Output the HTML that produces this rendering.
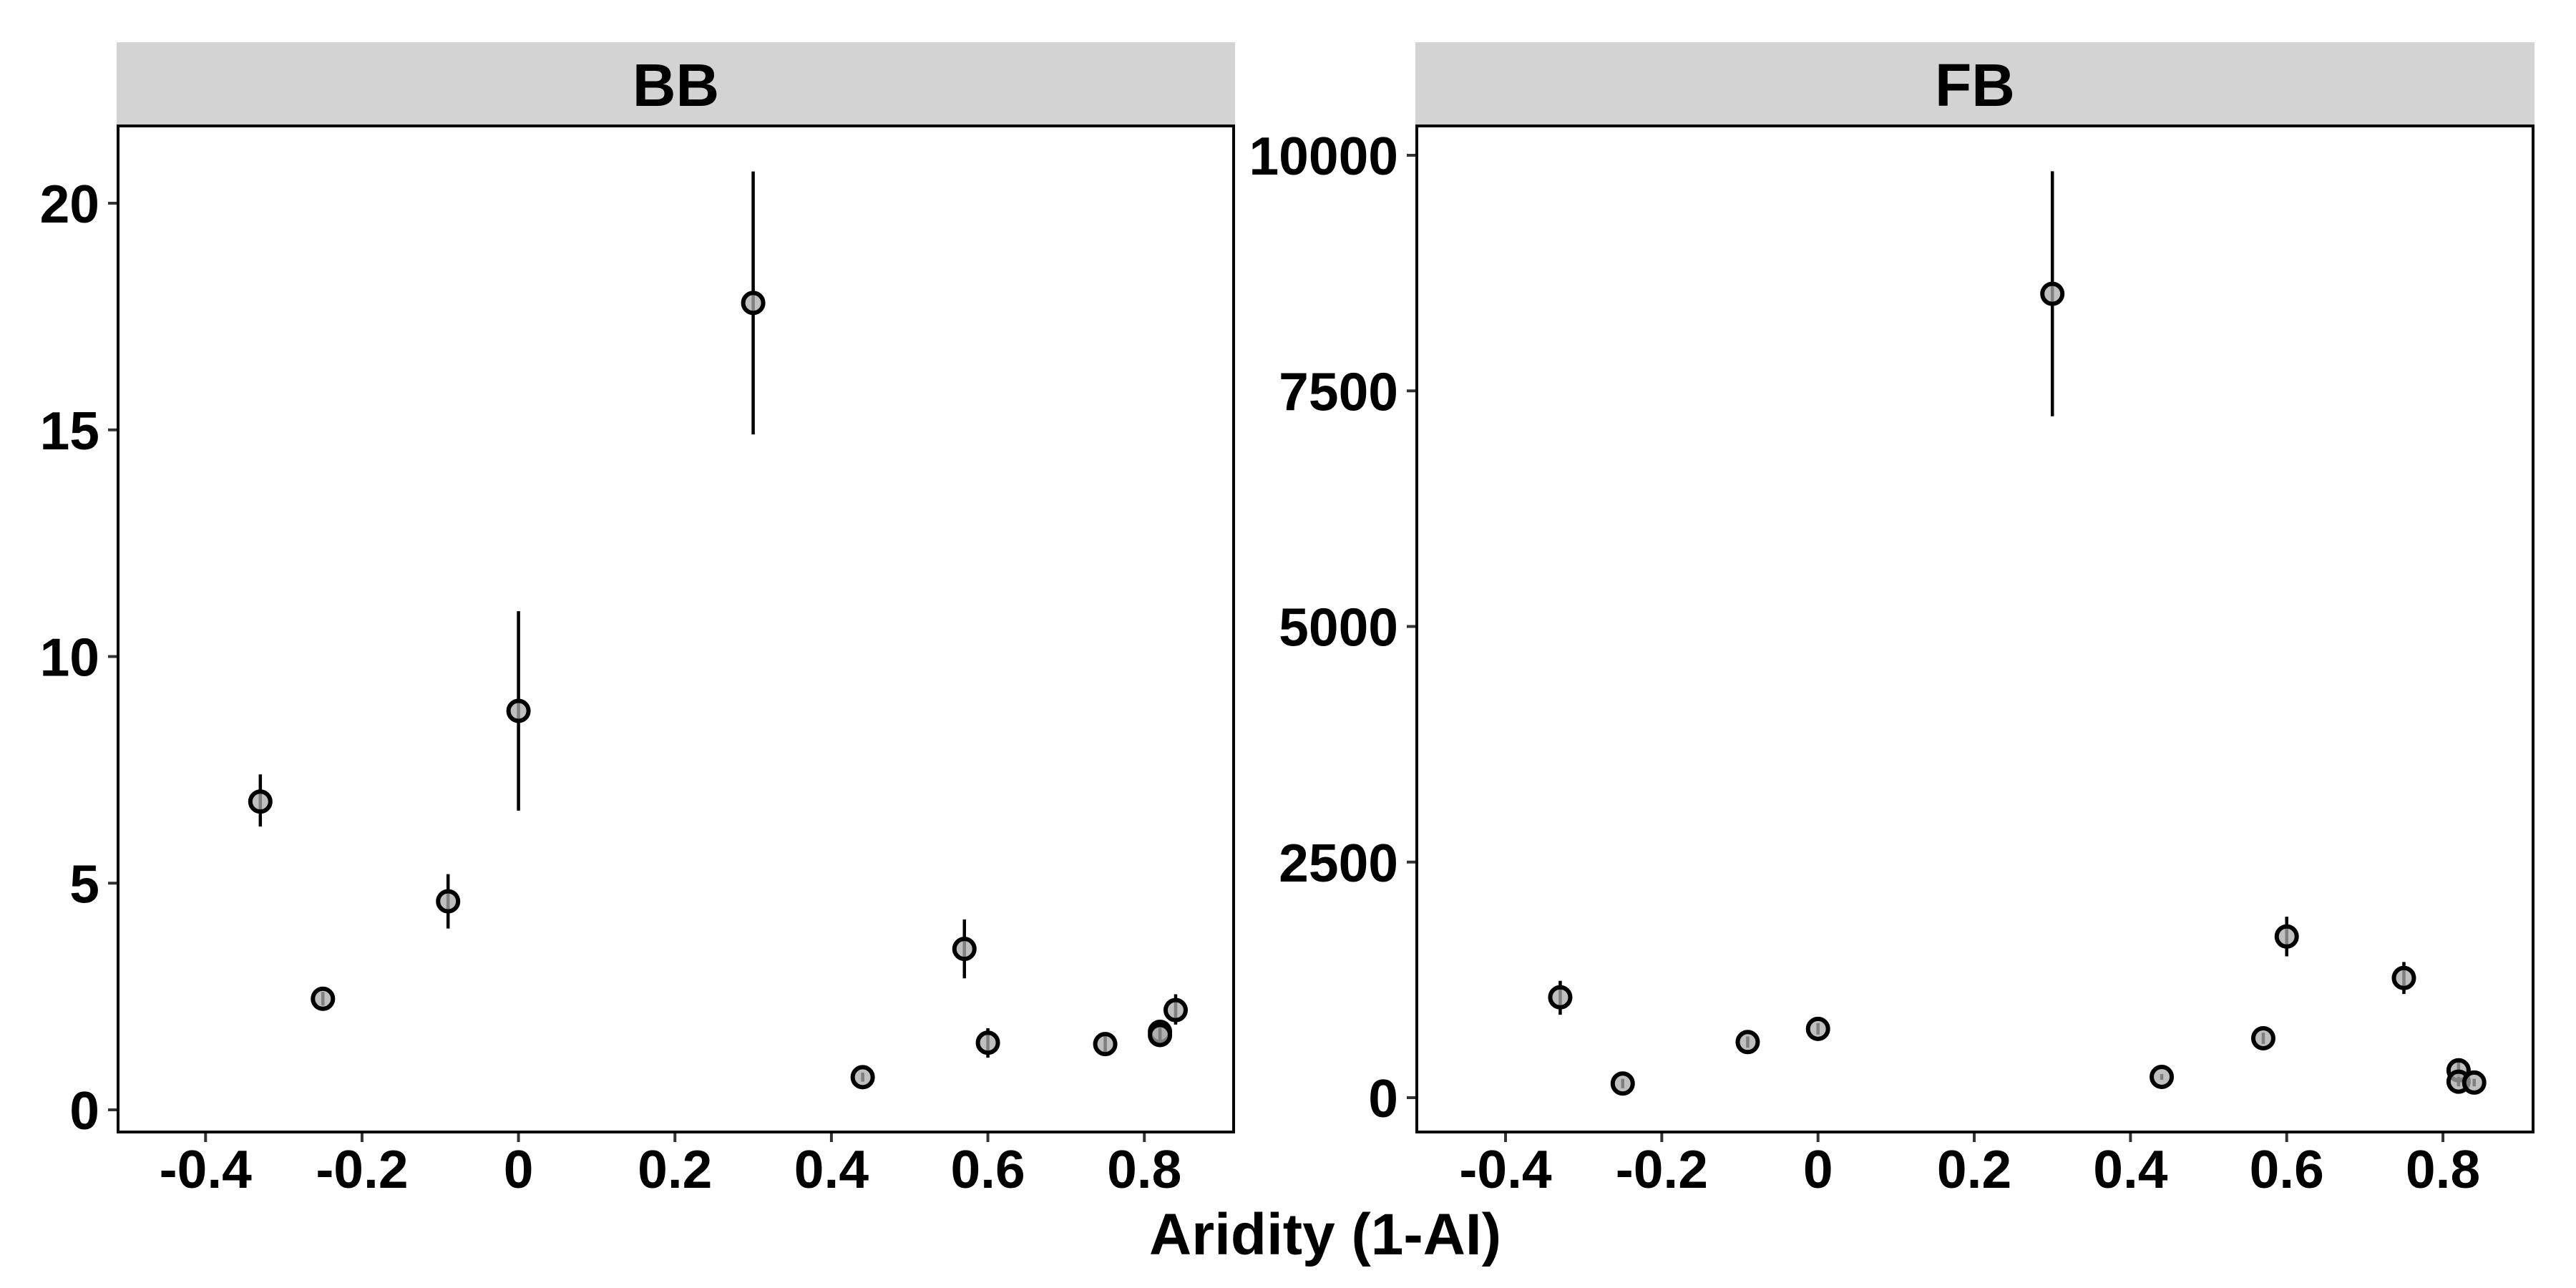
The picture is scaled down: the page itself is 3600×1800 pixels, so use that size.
<!DOCTYPE html>
<html><head><meta charset="utf-8"><style>
html,body{margin:0;padding:0;background:#fff;}
svg{display:block;font-family:"Liberation Sans",Arial,sans-serif;font-weight:bold;}
</style></head><body>
<svg id="chart" width="3600" height="1800" viewBox="0 0 3600 1800" xmlns="http://www.w3.org/2000/svg">
<rect width="3600" height="1800" fill="#fff"/>
<g id="root"></g>
<text x="1852" y="1753" font-size="82" text-anchor="middle">Aridity (1-AI)</text>
</svg>
<script>
const xTicks = [-0.4, -0.2, 0, 0.2, 0.4, 0.6, 0.8];
const xTickLabels = ["-0.4", "-0.2", "0", "0.2", "0.4", "0.6", "0.8"];
const bbTicks = [0, 5, 10, 15, 20];
const bbTickLabels = ["0", "5", "10", "15", "20"];
const fbTicks = [0, 2500, 5000, 7500, 10000];
const fbTickLabels = ["0", "2500", "5000", "7500", "10000"];
const aridity = [-0.33, -0.25, -0.09, 0, 0.3, 0.44, 0.57, 0.6, 0.75, 0.82, 0.82, 0.84];
const bbMean = [6.8, 2.45, 4.6, 8.8, 17.8, 0.72, 3.55, 1.48, 1.45, 1.72, 1.65, 2.2];
const bbLow = [6.25, 2.3, 4.0, 6.6, 14.9, 0.62, 2.9, 1.15, 1.2, 1.5, 1.5, 1.88];
const bbHigh = [7.4, 2.6, 5.2, 11.0, 20.7, 0.82, 4.2, 1.8, 1.7, 1.92, 1.8, 2.55];
const fbMean = [1065, 150, 590, 730, 8530, 220, 630, 1710, 1270, 290, 170, 160];
const fbLow = [880, 100, 530, 670, 7230, 190, 570, 1500, 1100, 200, 120, 120];
const fbHigh = [1240, 200, 650, 790, 9830, 250, 690, 1920, 1440, 380, 220, 200];

const NS = "http://www.w3.org/2000/svg";
const root = document.getElementById("root");
function mk(tag, attrs, parent) {
  const e = document.createElementNS(NS, tag);
  for (const k in attrs) e.setAttribute(k, attrs[k]);
  (parent || root).appendChild(e);
  return e;
}

const panels = [
  {name: "bb", title: "BB", left: 165, right: 1724, top: 176, bottom: 1582, x0: 724.6, xPer: 1093.3, y0: 1551, yPer: 63.35,
   ticks: bbTicks, labels: bbTickLabels, mean: bbMean, lo: bbLow, hi: bbHigh},
  {name: "fb", title: "FB", left: 1980, right: 3540, top: 176, bottom: 1582, x0: 2540.7, xPer: 1091.7, y0: 1534, yPer: 0.1317,
   ticks: fbTicks, labels: fbTickLabels, mean: fbMean, lo: fbLow, hi: fbHigh}
];

panels.forEach(p => {
  const g = mk("g", {});
  
  
  const xs = v => p.x0 + v * p.xPer;
  const ys = v => p.y0 - v * p.yPer;
  const strip = mk("rect", {x: p.left - 2, y: 59, width: p.right - p.left + 4, height: p.top - 59, fill: "#d3d3d3"}, g);
  
  
  const st = mk("text", {x: (p.left + p.right) / 2, y: 148, "font-size": 84, "text-anchor": "middle"}, g);
  st.textContent = p.title;
  
  
  p.ticks.forEach((t, i) => {
    const y = ys(t);
    const tk = mk("line", {x1: p.left - 14, x2: p.left, y1: y, y2: y, stroke: "#333", "stroke-width": 4}, g);
    
    
    const tl = mk("text", {x: p.left - 26, y: y + 27, "font-size": 75, "text-anchor": "end"}, g);
    tl.textContent = p.labels[i];
    
    
  });
  xTicks.forEach((t, i) => {
    const x = xs(t);
    const tk = mk("line", {x1: x, x2: x, y1: p.bottom, y2: p.bottom + 14, stroke: "#333", "stroke-width": 4}, g);
    
    
    const tl = mk("text", {x: x, y: 1660, "font-size": 75, "text-anchor": "middle"}, g);
    tl.textContent = xTickLabels[i];
    
    
  });
  aridity.forEach((a, i) => {
    const x = xs(a);
    const eb = mk("line", {x1: x, x2: x, y1: ys(p.lo[i]), y2: ys(p.hi[i]), stroke: "#000", "stroke-width": 4.5}, g);
    
    
    const c = mk("circle", {cx: x, cy: ys(p.mean[i]), r: 14, fill: "rgba(170,170,170,0.75)", stroke: "#000", "stroke-width": 6}, g);
    
    
  });
  const fr = mk("rect", {x: p.left, y: p.top, width: p.right - p.left, height: p.bottom - p.top, fill: "none", stroke: "#000", "stroke-width": 4}, g);
  
  
});
</script>
</body></html>
